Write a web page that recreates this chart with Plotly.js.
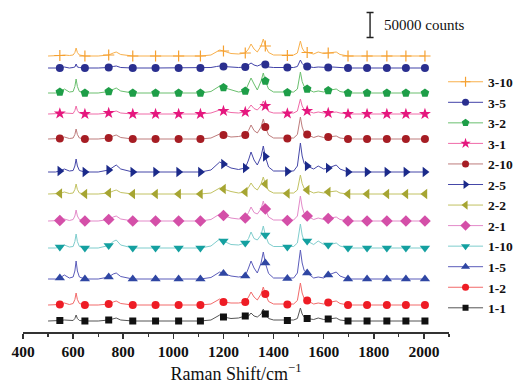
<!DOCTYPE html>
<html><head><meta charset="utf-8">
<script src="https://cdn.plot.ly/plotly-3.0.1.min.js"></script>
<style>html,body{margin:0;padding:0;background:#fff}#chart{width:519px;height:384px}</style>
</head><body><div id="chart"></div>
<script>
// Raman shift grid (cm^-1) shared by all spectra
const shift = [500,530,547,565,585,600,607,612,617,625,647,700,742,760,772,790,838,929,1021,1108,1150,1172,1185,1200,1230,1260,1287,1300,1310,1322,1335,1350,1359,1367,1380,1400,1430,1455,1480,1495,1502,1507,1514,1522,1534,1560,1578,1600,1618,1635,1650,1665,1697,1773,1852,1928,2004];
// indices of the grid points that carry a marker
const markerIdx = [2,10,12,16,17,18,19,23,26,33,37,44,48,52,53,54,55,56];

// sample names (top to bottom) and stacking offsets (counts)
const names   = ['3-10','3-5','3-2','3-1','2-10','2-5','2-2','2-1','1-10','1-5','1-2','1-1'];
const offsets = [530000,506000,456000,414000,364000,298000,254000,200000,146000,84000,32000,0];

// intensities (counts)
const s3_10 = [0,0,1000,2000,1000,2000,7000,16000,7000,2000,0,0,2000,6000,8000,3000,0,0,0,0,2000,8000,12000,10000,5000,4000,6000,14000,24000,14000,8000,20000,34000,20000,7000,2000,2000,1000,2000,6000,18000,30000,16000,9000,7000,4000,8000,5000,6000,7000,8000,3000,0,0,0,0,0];
const s3_5  = [0,0,0,2000,0,1000,2000,8000,2000,1000,0,0,1000,3000,4000,1000,0,0,0,0,1000,3000,4000,3000,2000,1000,2000,6000,10000,6000,4000,7000,12000,7000,2000,1000,1000,1000,1000,3000,10000,16000,9000,5000,3000,1000,2000,1000,1000,2000,2000,1000,0,0,0,0,0];
const s3_2  = [0,0,2000,8000,2000,3000,13000,28000,13000,3000,0,0,3000,8000,10000,4000,0,0,0,0,3000,10000,14000,11000,6000,2000,4000,18000,30000,18000,6000,24000,40000,24000,8000,2000,2000,1000,2000,8000,25000,42000,23000,13000,8000,2000,4000,2000,5000,6000,8000,3000,0,0,0,0,0];
const s3_1  = [0,0,1000,2000,1000,1000,7000,16000,7000,2000,0,0,2000,5000,6000,2000,0,0,0,0,2000,6000,8000,6000,3000,2000,4000,11000,18000,11000,8000,16000,26000,16000,5000,2000,2000,1000,2000,6000,18000,30000,16000,9000,6000,2000,4000,2000,2000,3000,4000,2000,0,0,0,0,0];
const s2_10 = [0,0,1000,4000,1000,2000,9000,20000,9000,2000,0,0,2000,6000,8000,3000,0,0,0,0,2000,7000,10000,8000,4000,5000,8000,17000,28000,17000,12000,24000,40000,24000,8000,2000,2000,1000,2000,9000,26000,44000,24000,13000,9000,3000,6000,3000,4000,5000,6000,2000,0,0,0,0,0];
const s2_5  = [0,0,2000,6000,2000,3000,12000,26000,12000,3000,0,0,4000,11000,14000,6000,0,0,0,0,4000,14000,20000,16000,8000,5000,8000,24000,40000,24000,14000,31000,52000,31000,10000,2000,2000,1000,2000,12000,35000,58000,32000,17000,12000,6000,12000,6000,8000,11000,14000,6000,0,0,0,0,0];
const s2_2  = [0,0,1000,4000,1000,2000,9000,20000,9000,2000,0,0,2000,6000,8000,3000,0,0,0,0,2000,8000,12000,10000,5000,2000,4000,13000,22000,13000,8000,20000,34000,20000,7000,2000,2000,1000,2000,8000,23000,38000,21000,11000,8000,2000,4000,2000,4000,5000,6000,2000,0,0,0,0,0];
const s2_1  = [0,0,1000,4000,1000,3000,10000,22000,10000,3000,0,0,3000,8000,10000,4000,0,0,0,0,3000,10000,14000,11000,6000,4000,6000,17000,28000,17000,14000,24000,40000,24000,8000,2000,2000,1000,2000,10000,30000,50000,28000,15000,10000,3000,6000,3000,5000,6000,8000,3000,0,0,0,0,0];
const s1_10 = [0,0,2000,6000,2000,3000,13000,28000,13000,3000,0,0,5000,13000,16000,6000,0,0,0,0,4000,13000,18000,14000,7000,6000,10000,19000,32000,19000,16000,26000,44000,26000,9000,3000,3000,2000,3000,10000,29000,48000,26000,14000,14000,7000,14000,7000,6000,8000,10000,4000,0,0,0,0,0];
const s1_5  = [0,0,2000,8000,2000,4000,16000,36000,16000,4000,0,0,4000,10000,12000,5000,0,0,0,0,3000,10000,14000,11000,6000,4000,6000,22000,36000,22000,12000,32000,54000,32000,11000,2000,2000,1000,2000,12000,35000,58000,32000,17000,12000,2000,4000,2000,8000,11000,14000,6000,0,0,0,0,0];
const s1_2  = [0,0,1000,4000,1000,3000,11000,24000,11000,3000,0,0,2000,6000,8000,3000,0,0,0,0,2000,8000,12000,6000,4000,4000,6000,16000,26000,16000,10000,22000,36000,22000,7000,2000,2000,1000,2000,9000,26000,44000,24000,13000,9000,2000,4000,2000,5000,6000,8000,3000,0,0,0,0,0];
const s1_1  = [0,0,1000,2000,1000,1000,5000,12000,5000,1000,0,0,2000,5000,6000,2000,0,0,0,0,2000,8000,12000,8000,5000,6000,10000,10000,16000,10000,8000,14000,24000,14000,5000,2000,2000,1000,2000,5000,16000,26000,14000,8000,5000,3000,6000,3000,4000,5000,6000,2000,0,0,0,0,0];
const series = [s3_10,s3_5,s3_2,s3_1,s2_10,s2_5,s2_2,s2_1,s1_10,s1_5,s1_2,s1_1];

// scale bar: 50000 counts
const scaleCounts = 50000;
const scaleLabel = '50000 counts';

// styles
const lineColors   = ['#F8B04C','#4142A8','#6ABF6E','#F06AA8','#BE7C7C','#4547A8','#C2C262','#E38AC9','#7FCDCD','#5B5CBA','#F26A6A','#555555'];
const markerColors = ['#F5A030','#2A2F8F','#1E9E48','#E5177E','#A61D24','#1B2A8A','#A6A532','#D44FA8','#14A0A0','#2F46A3','#EE1C25','#111111'];
const symbols = ['cross-thin','circle','pentagon','star','circle','triangle-right','triangle-left','diamond','triangle-down','triangle-up','circle','square'];
const sizes   = [8,8,9,9,8,9,9,9,9,9,8,7];

const traces = [];
series.forEach((s, k) => {
  const y = s.map(v => v + offsets[k]);
  traces.push({x: shift, y: y, type:'scatter', mode:'lines', showlegend:false, hoverinfo:'skip',
               line:{color: lineColors[k], width:1}});
  const mk = {symbol: symbols[k], size: sizes[k], color: markerColors[k]};
  if (symbols[k] === 'cross-thin') mk.line = {color: markerColors[k], width: 1.2};
  traces.push({x: markerIdx.map(i => shift[i]), y: markerIdx.map(i => y[i]), type:'scatter', mode:'markers',
               showlegend:false, marker: mk});
});
// legend entries
series.forEach((s, k) => {
  const mk = {symbol: symbols[k], size: sizes[k]-1, color: markerColors[k]};
  if (symbols[k] === 'cross-thin') mk.line = {color: markerColors[k], width: 1.2};
  traces.push({x:[null], y:[null], type:'scatter', mode:'lines+markers', name: names[k],
               line:{color: lineColors[k], width:1}, marker: mk});
});
// scale bar
traces.push({x:[1785], y:[592000], type:'scatter', mode:'markers', showlegend:false, hoverinfo:'skip',
             marker:{size:1, color:'rgba(0,0,0,0)'},
             error_y:{type:'data', array:[scaleCounts/2], visible:true, color:'#222', thickness:1.4, width:3.5}});

const layout = {
  width:519, height:384,
  margin:{l:23, r:70, t:5, b:52, autoexpand:false},
  paper_bgcolor:'#fff', plot_bgcolor:'#fff',
  font:{family:'Liberation Serif', color:'#111'},
  showlegend:true,
  legend:{x:0.986, xanchor:'left', y:0.812, yanchor:'top', maxheight:320, bgcolor:'rgba(0,0,0,0)',
          font:{family:'Liberation Serif', size:13.5, weight:'bold', color:'#111'},
          itemwidth:35, tracegroupgap:0},
  xaxis:{range:[400,2100], tick0:400, dtick:200, showgrid:false, zeroline:false,
         showline:true, linecolor:'#333', linewidth:1.5,
         ticks:'outside', ticklen:5, tickwidth:1.5, tickcolor:'#333',
         minor:{dtick:100, ticks:'outside', ticklen:3, tickwidth:1.2, tickcolor:'#333'},
         tickfont:{family:'Liberation Serif', size:15.5, weight:'bold', color:'#111'},
         title:{text:'Raman Shift/cm<sup>\u22121</sup>', font:{family:'Liberation Serif', size:18, color:'#111'}, standoff:8}},
  yaxis:{range:[-22000,632000], visible:false, showgrid:false, zeroline:false},
  annotations:[{x:1832, y:592000, xref:'x', yref:'y', xanchor:'left', yanchor:'middle', showarrow:false,
                text:scaleLabel, font:{family:'Liberation Serif', size:15, color:'#111'}}]
};
Plotly.newPlot('chart', traces, layout, {staticPlot:true, displayModeBar:false});
</script></body></html>
